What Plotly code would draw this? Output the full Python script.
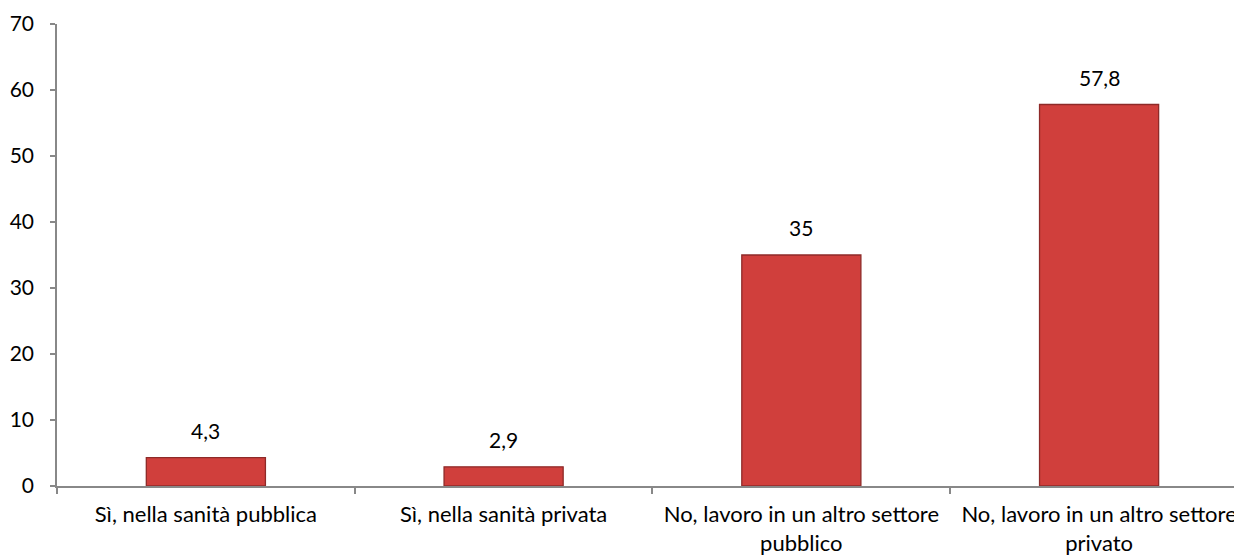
import plotly.graph_objects as go

categories = [
    "Sì, nella sanità pubblica",
    "Sì, nella sanità privata",
    "No, lavoro in un altro settore<br>pubblico",
    "No, lavoro in un altro settore<br>privato",
]
values = [4.3, 2.9, 35, 57.8]
y_ticks = [0, 10, 20, 30, 40, 50, 60, 70]

def fmt(v):
    s = ("%g" % v)
    return s.replace(".", ",")

FONT = "Lato, Carlito, Calibri, sans-serif"
FS = 22

fig = go.Figure()
fig.add_trace(go.Bar(
    x=categories,
    y=values,
    marker=dict(color="#d03f3c", line=dict(color="#8e2a28", width=1.3)),
    hoverinfo="skip",
))

for c, v in zip(categories, values):
    fig.add_annotation(x=c, y=v, text=fmt(v), showarrow=False,
                       yanchor="bottom", yshift=13,
                       font=dict(family=FONT, size=21, color="#000000"))

# page body has an 8px default margin; compensate so the chart fills the window
fig.update_layout(
    width=1234, height=548,
    margin=dict(l=49, r=0, t=16, b=70),
    paper_bgcolor="white", plot_bgcolor="white",
    bargap=0.6,
    showlegend=False,
    font=dict(family=FONT, size=FS, color="#000000"),
    xaxis=dict(
        type="category",
        range=[-0.5, 3.48],
        automargin=False,
        showline=True, linecolor="#888888", linewidth=1.5,
        ticks="outside", ticklen=6, tickcolor="#888888", tickwidth=1.5,
        tickson="boundaries",
        ticklabelstandoff=8,
        showgrid=False, zeroline=False,
        tickfont=dict(family=FONT, size=FS, color="#000000"),
    ),
    yaxis=dict(
        range=[0, 70],
        automargin=False,
        tickvals=y_ticks,
        ticktext=[str(t) for t in y_ticks],
        showline=True, linecolor="#888888", linewidth=1.5,
        ticks="outside", ticklen=5, tickcolor="#888888", tickwidth=1.5,
        ticklabelstandoff=12,
        showgrid=False, zeroline=False,
        tickfont=dict(family=FONT, size=21, color="#000000"),
    ),
)

fig.write_html("out.html")
